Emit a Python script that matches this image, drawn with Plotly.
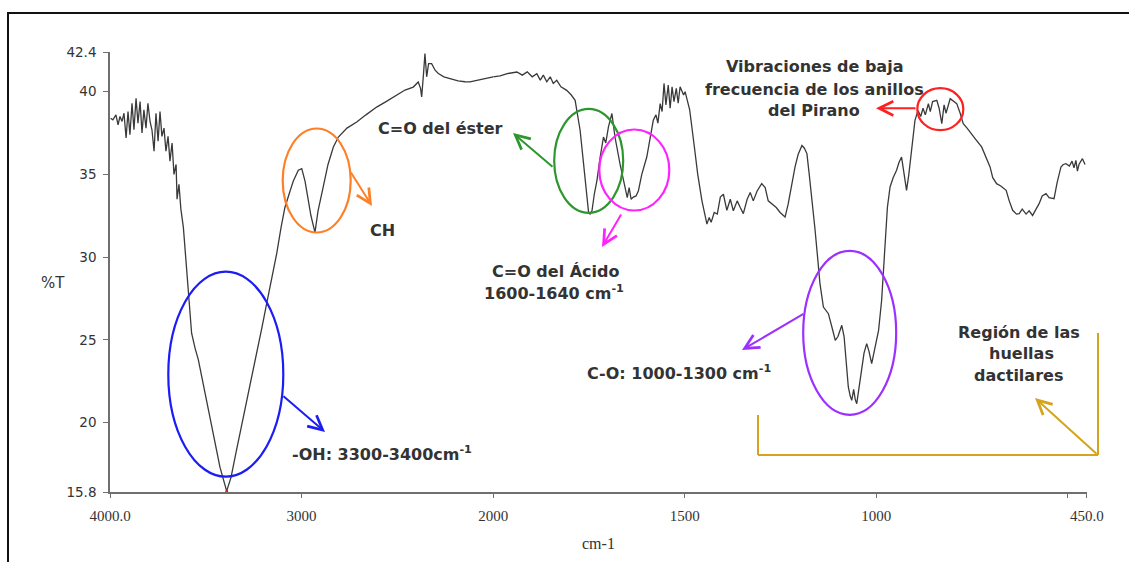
import numpy as np
import plotly.graph_objects as go

# ---------------- data ----------------
wavenumber = [
    3997, 3985, 3969, 3958, 3948, 3937, 3927, 3916, 3906, 3896, 3885, 3875, 3864, 3854,
    3843, 3833, 3823, 3812, 3802, 3791, 3781, 3770, 3760, 3749, 3739, 3729, 3718, 3708,
    3697, 3687, 3676, 3666, 3655, 3650, 3640, 3630, 3617, 3603, 3591, 3574, 3556, 3539,
    3478, 3426, 3391, 3368, 3342, 3300, 3260, 3234, 3206, 3182, 3154, 3130, 3107, 3087,
    3060, 3043, 3017, 2999, 2982, 2966, 2951, 2930, 2914, 2887, 2862, 2834, 2808, 2763,
    2712, 2664, 2608, 2559, 2503, 2460, 2417, 2391, 2379, 2373, 2364, 2356, 2347, 2337,
    2321, 2303, 2286, 2257, 2225, 2183, 2147, 2121, 2079, 2042, 2016, 2000,
    1982, 1961, 1938, 1924, 1911, 1898, 1886, 1877, 1869, 1860, 1851, 1843, 1834, 1823,
    1808, 1796, 1786, 1779, 1773, 1762, 1751, 1747, 1742, 1736, 1729, 1721, 1712, 1706,
    1699, 1690, 1687, 1682, 1669, 1655, 1650, 1645, 1640, 1634, 1627, 1621, 1612, 1599,
    1590, 1582, 1575, 1570, 1564, 1559, 1554, 1549, 1543, 1538, 1533, 1528, 1522, 1517,
    1512, 1503, 1499, 1487, 1475, 1466, 1455, 1442, 1436, 1431, 1423, 1415, 1407, 1399,
    1390, 1381, 1373, 1363, 1355, 1347, 1337, 1329, 1321, 1311, 1299, 1290, 1282, 1273,
    1261, 1251, 1238, 1230, 1220, 1212, 1204, 1194, 1188, 1181, 1175, 1168, 1160, 1152,
    1147, 1138, 1125, 1115, 1107, 1100, 1090, 1084, 1079, 1073, 1068, 1064, 1059, 1055,
    1051, 1045, 1038, 1032, 1025, 1019, 1012, 1003, 994, 986, 981, 977, 971, 964,
    956, 947, 941, 934, 928, 921, 915, 908, 899, 891, 884, 878, 872, 864,
    859, 853, 842, 836, 829, 823, 818, 807, 799, 790, 781, 773, 763, 751,
    740, 725, 714, 703, 696, 686, 675, 661, 653, 644, 634, 627, 619, 609,
    601, 592, 583, 575, 567, 557, 549, 536, 528, 518, 512, 505, 496, 489,
    484, 479, 475, 471, 462, 455,
]
transmittance = [
    38.4, 38.3, 38.6, 38.0, 38.5, 38.2, 38.7, 37.2, 38.8, 37.4, 39.3, 37.7, 39.6, 38.1,
    39.4, 37.5, 38.9, 37.8, 39.3, 38.2, 37.7, 36.4, 38.7, 37.0, 38.8, 37.3, 37.8, 36.4,
    37.3, 35.8, 36.9, 35.0, 35.6, 33.5, 34.4, 32.9, 31.8, 29.8, 27.8, 25.4, 24.5, 23.8,
    20.3, 17.3, 15.85, 16.7, 18.2, 20.5, 22.8, 24.2, 25.8, 27.2, 28.8, 30.2, 31.8, 33.0,
    34.0, 34.6, 35.25, 35.35, 34.6, 33.5, 32.5, 31.5, 32.8, 34.24, 35.6, 36.66, 37.26, 37.8,
    38.17, 38.6, 39.07, 39.4, 39.78, 40.1, 40.28, 40.59, 40.2, 39.68, 41.0, 42.3, 40.9, 41.7,
    41.7, 41.3, 41.1, 40.9, 40.79, 40.65, 40.6, 40.59, 40.7, 40.8, 40.89, 40.9,
    40.95, 41.1, 41.19, 41.0, 41.2, 40.9, 41.09, 40.7, 41.0, 40.6, 40.9, 40.5, 40.69, 40.3,
    40.08, 39.8, 39.48, 38.5, 37.67, 35.2, 32.73, 32.6, 32.8, 33.8, 34.64, 36.0, 37.26, 36.9,
    37.87, 38.68, 38.1, 37.26, 35.65, 34.24, 33.6, 34.2, 33.5, 33.63, 33.7, 34.0, 35.0, 36.05,
    37.3, 38.27, 38.6, 38.1, 39.28, 38.8, 40.5, 39.2, 40.4, 39.0, 40.3, 39.4, 40.2, 39.3,
    40.3, 39.8, 40.0, 38.9, 36.7, 35.0, 33.4, 32.0, 32.4, 32.1, 32.7, 32.6, 33.63, 33.8,
    32.83, 33.5, 32.8, 33.4, 33.0, 32.63, 33.5, 33.9, 33.4, 34.0, 34.44, 34.2, 33.4, 33.23,
    33.0, 32.7, 32.42, 33.2, 34.6, 35.45, 36.2, 36.75, 36.6, 36.26, 35.0, 33.63, 31.7, 29.7,
    28.4, 26.98, 26.58, 25.7, 24.97, 25.2, 25.88, 25.2, 23.6, 22.15, 21.6, 21.34, 22.0, 21.4,
    21.14, 22.2, 23.36, 24.2, 24.77, 24.3, 23.56, 24.6, 25.57, 27.39, 29.2, 31.02, 33.0, 34.24,
    34.8, 35.25, 35.7, 36.05, 35.2, 34.04, 35.0, 36.46, 38.27, 38.87, 38.5, 39.0, 38.6, 39.28,
    38.8, 39.4, 39.48, 39.0, 38.07, 39.2, 38.7, 39.58, 39.45, 39.28, 38.7, 38.07, 37.8, 37.47,
    37.1, 36.66, 36.1, 35.45, 34.8, 34.44, 34.3, 34.04, 33.4, 32.83, 32.6, 32.63, 32.9, 32.6,
    32.8, 32.52, 32.9, 33.23, 33.7, 33.84, 33.6, 33.53, 34.5, 35.45, 35.6, 35.65, 35.5, 35.8,
    35.4, 35.85, 35.2, 35.6, 35.95, 35.6,
]

y_ticks = [15.8, 20, 25, 30, 35, 40, 42.4]
y_ticklabels = ["15.8", "20", "25", "30", "35", "40", "42.4"]
x_hi_ticks = [4000, 3000, 2000]
x_hi_labels = ["4000.0", "3000", "2000"]
x_lo_ticks = [1500, 1000, 500, 450]
x_lo_labels = ["1500", "1000", "", "450.0"]

# ---------------- figure ----------------
W, H = 1129, 562
L, R, T, B = 110, 42, 52, 70
PW, PH = W - L - R, H - T - B
SPLIT = 2000 / 5100.0  # 4000-2000 at half the scale of 2000-450


def px(x):
    return (x - L) / PW


def py(y):
    return (T + PH - y) / PH


wn = np.array(wavenumber, dtype=float)
tr = np.array(transmittance, dtype=float)
hi = wn >= 2000
lo = wn <= 2000

LINE = "#3a3a3a"
fig = go.Figure()
fig.add_trace(go.Scatter(x=wn[hi], y=tr[hi], mode="lines", xaxis="x", yaxis="y",
                         line=dict(color=LINE, width=1.3), hoverinfo="skip"))
fig.add_trace(go.Scatter(x=wn[lo], y=tr[lo], mode="lines", xaxis="x2", yaxis="y",
                         line=dict(color=LINE, width=1.3), hoverinfo="skip"))
imin = int(np.argmin(tr))
fig.add_trace(go.Scatter(x=[wn[imin]], y=[tr[imin]], mode="markers", xaxis="x", yaxis="y",
                         marker=dict(color="#e02020", size=3), hoverinfo="skip"))

AX = "#6f6f6f"
tickfont_x = dict(family="Liberation Serif", size=15, color="#333333")
tickfont_y = dict(family="DejaVu Sans", size=13.5, color="#333333")
common_x = dict(showline=True, linecolor=AX, linewidth=1.6, ticks="outside", ticklen=4,
                tickcolor=AX, tickwidth=1.2, showgrid=False, zeroline=False,
                tickfont=tickfont_x, ticklabelstandoff=5)
fig.update_layout(
    width=W, height=H,
    margin=dict(l=L, r=R, t=T, b=B),
    paper_bgcolor="white", plot_bgcolor="white",
    showlegend=False,
    xaxis=dict(domain=[0, SPLIT], range=[4000, 2000], tickvals=x_hi_ticks,
               ticktext=x_hi_labels, anchor="y", **common_x),
    xaxis2=dict(domain=[SPLIT, 1], range=[2000, 450], tickvals=x_lo_ticks,
                ticktext=x_lo_labels, anchor="y", **common_x),
    yaxis=dict(range=[15.8, 42.4], tickvals=y_ticks, ticktext=y_ticklabels,
               showline=True, linecolor=AX, linewidth=1.6, ticks="outside", ticklen=5,
               tickcolor=AX, tickwidth=1.2, showgrid=False, zeroline=False,
               tickfont=tickfont_y, ticklabelstandoff=4),
)

shapes = []
# outer frame
shapes.append(dict(type="rect", xref="paper", yref="paper", x0=px(8), x1=px(1140),
                   y0=py(13), y1=py(580), line=dict(color="#111111", width=2)))

# ellipses
ellipses = [
    (225.8, 374.2, 115, 205, "#1c1cf5"),
    (316.7, 180.5, 68, 104, "#ff7f27"),
    (588.7, 160.8, 69, 104, "#2e962e"),
    (634.3, 170.0, 70, 81, "#ff22ff"),
    (849.7, 332.8, 93, 164, "#9b30ff"),
    (940.3, 109.2, 46, 42, "#ff2020"),
]
for cx, cy, w, h, c in ellipses:
    shapes.append(dict(type="circle", xref="paper", yref="paper",
                       x0=px(cx - w / 2), x1=px(cx + w / 2),
                       y0=py(cy + h / 2), y1=py(cy - h / 2),
                       line=dict(color=c, width=2.2)))

# gold bracket
GOLD = "#d4a41c"
for (x0, y0, x1, y1) in [(758, 415, 758, 455), (758, 455, 1098, 455), (1098, 455, 1098, 333)]:
    shapes.append(dict(type="line", xref="paper", yref="paper", x0=px(x0), y0=py(y0),
                       x1=px(x1), y1=py(y1), line=dict(color=GOLD, width=2)))
fig.update_layout(shapes=shapes)

annotations = []
# arrows: tail -> head
arrows = [
    ((282, 395), (325, 432), "#1c1cf5"),
    ((350, 171), (372, 206), "#ff7f27"),
    ((554, 168), (513, 133), "#2e962e"),
    ((622, 213), (602, 247), "#ff22ff"),
    ((805, 313), (742, 350), "#9b30ff"),
    ((917, 108.3), (876, 108.3), "#ff2020"),
    ((1098, 455), (1035, 398), GOLD),
]
for (tx, ty), (hx, hy), c in arrows:
    annotations.append(dict(x=px(hx), y=py(hy), xref="paper", yref="paper", text="",
                            showarrow=True, arrowhead=5, arrowsize=1.4, arrowwidth=2,
                            arrowcolor=c, ax=tx - hx, ay=ty - hy, axref="pixel", ayref="pixel",
                            standoff=0, startstandoff=0))

TXT = dict(family="DejaVu Sans", size=16, color="#333333", weight="bold")
labels = [
    ("-OH: 3300-3400cm<sup>-1</sup>", 290, 453, "left"),
    ("CH", 382.5, 230, "center"),
    ("C=O del éster", 376, 128, "left"),
    ("C=O del Ácido", 555, 271.5, "center"),
    ("1600-1640 cm<sup>-1</sup>", 554, 292, "center"),
    ("C-O: 1000-1300 cm<sup>-1</sup>", 585, 372, "left"),
    ("Vibraciones de baja", 814, 66.7, "center"),
    ("frecuencia de los anillos", 814, 89, "center"),
    ("del Pirano", 814, 110, "center"),
    ("Región de las", 1019, 332, "center"),
    ("huellas", 1021, 353, "center"),
    ("dactilares", 1018, 375, "center"),
]
for text, x, y, anchor in labels:
    annotations.append(dict(x=px(x), y=py(y), xref="paper", yref="paper", text=text,
                            showarrow=False, xanchor=anchor, yanchor="middle", font=TXT))

# axis titles
annotations.append(dict(x=px(53), y=py(283), xref="paper", yref="paper", text="%T",
                        showarrow=False, xanchor="center", yanchor="middle",
                        font=dict(family="DejaVu Sans", size=15, color="#333333")))
annotations.append(dict(x=px(598), y=py(543), xref="paper", yref="paper", text="cm-1",
                        showarrow=False, xanchor="center", yanchor="middle",
                        font=dict(family="Liberation Serif", size=16, color="#333333")))
fig.update_layout(annotations=annotations)

fig.write_html("out.html")
